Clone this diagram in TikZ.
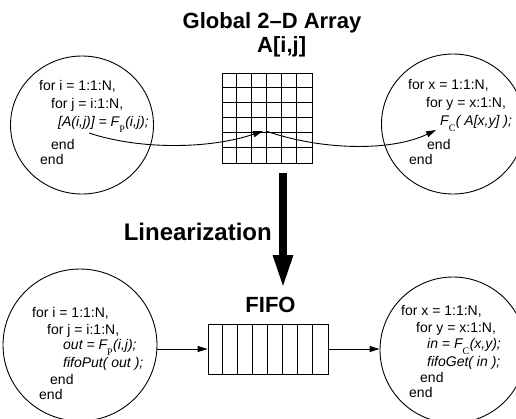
\documentclass[tikz,border=0pt]{standalone}
\usepackage{fontspec}
\setmainfont{Liberation Sans}
\newfontfamily\subfont{Liberation Serif}
\usetikzlibrary{arrows.meta,shapes.geometric}
% small upright serif subscript hung below the function name
\newcommand\fsub[1]{\raisebox{-6pt}{\subfont\upshape\fontsize{10}{10}\selectfont #1}\kern0.5pt}
\begin{document}
\begin{tikzpicture}[x=1pt,y=-1pt,
  proc/.style={draw, ellipse, line width=0.9pt, inner sep=0pt},
  code/.style={anchor=base west, inner sep=0pt, font=\fontsize{14}{16}\selectfont},
  heading/.style={inner sep=0pt, font=\bfseries\fontsize{22}{26}\selectfont},
  cellbox/.style={draw, line width=0.8pt, inner sep=0pt},
  flow/.style={line width=0.9pt, -{Triangle[length=10pt,width=6pt]}},
]
\useasboundingbox (0,0) rectangle (516,418);

% ---- headings
\node[heading, anchor=base] (title) at (272,28) {Global 2--D Array};
\node[heading, anchor=base west] (arr) at (257,52) {A[i,j]};
\node[heading, anchor=base east, font=\bfseries\fontsize{24}{26}\selectfont] (lin) at (272,240) {Linearization};
\node[heading, anchor=base] (fifolabel) at (270.5,312) {FIFO};

% ---- process circles
\node[proc, minimum width=143pt, minimum height=138pt] (prodA) at (82,125) {};
\node[proc, minimum width=143pt, minimum height=140pt] (consA) at (453,124) {};
\node[proc, minimum width=154pt, minimum height=152pt] (prodF) at (80,345) {};
\node[proc, minimum width=146pt, minimum height=146pt] (consF) at (453,350) {};

% ---- global 2-D array (6 x 6 cells)
\node[cellbox, minimum width=90pt, minimum height=90pt] (grid) at (267,118) {};
\foreach \k in {1,...,5}{
  \draw[line width=0.8pt] ([xshift=15*\k pt]grid.north west) -- ([xshift=15*\k pt]grid.south west);
  \draw[line width=0.8pt] ([yshift=-15*\k pt]grid.north west) -- ([yshift=-15*\k pt]grid.north east);
}

% ---- FIFO (8 slots)
\node[cellbox, minimum width=120pt, minimum height=50pt] (fifo) at (268,349) {};
\foreach \k in {1,...,7}{
  \draw[line width=0.8pt] ([xshift=15*\k pt]fifo.north west) -- ([xshift=15*\k pt]fifo.south west);
}

% ---- producer, 2-D array version
\node[code] (pa1) at (39,90)  {for i = 1:1:N,};
\node[code] (pa2) at (51,108) {for j = i:1:N,};
\node[code] (pa3) at (58,126) {\itshape [A(i,j)] = F\fsub{P}(i,j);};
\node[code] (pa4) at (51,149) {end};
\node[code] (pa5) at (40,164) {end};

% ---- consumer, 2-D array version
\node[code] (ca1) at (408,89)  {for x = 1:1:N,};
\node[code] (ca2) at (426,107) {for y = x:1:N,};
\node[code] (ca3) at (440,125) {\itshape F\fsub{C}( A[x,y] );};
\node[code] (ca4) at (427,149) {end};
\node[code] (ca5) at (409,164) {end};

% ---- producer, FIFO version
\node[code] (pf1) at (32,317) {for i = 1:1:N,};
\node[code] (pf2) at (47,334) {for j = i:1:N,};
\node[code] (pf3) at (63,349) {\itshape out = F\fsub{P}(i,j);};
\node[code] (pf4) at (63,367) {\itshape fifoPut( out );};
\node[code] (pf5) at (50,384) {end};
\node[code] (pf6) at (39,399) {end};

% ---- consumer, FIFO version
\node[code] (cf1) at (401,315) {for x = 1:1:N,};
\node[code] (cf2) at (416,332) {for y = x:1:N,};
\node[code] (cf3) at (427,348) {\itshape in = F\fsub{C}(x,y);};
\node[code] (cf4) at (427,366) {\itshape fifoGet( in );};
\node[code] (cf5) at (420,382) {end};
\node[code] (cf6) at (409,397) {end};

% ---- element write / read through the shared array
\coordinate (wr) at (89,133);
\coordinate (cell) at (263,131);
\coordinate (cellout) at (266,131);
\coordinate (rd) at (436,130);
\draw[flow] (wr) .. controls (140,150) and (210,149) .. (cell);
\draw[flow] (cellout) .. controls (320,150) and (390,152) .. (rd);

% ---- linearization step
\coordinate (lintop) at (283,173);
\coordinate (linbot) at (283,289);
\draw[line width=8pt, -{Triangle[length=34pt,width=18pt]}] (lintop) -- (linbot);

% ---- stream through the FIFO
\draw[flow] (prodF.east |- fifo.west) -- (fifo.west);
\draw[flow] (fifo.east) -- (fifo.east -| consF.west);
\end{tikzpicture}
\end{document}
